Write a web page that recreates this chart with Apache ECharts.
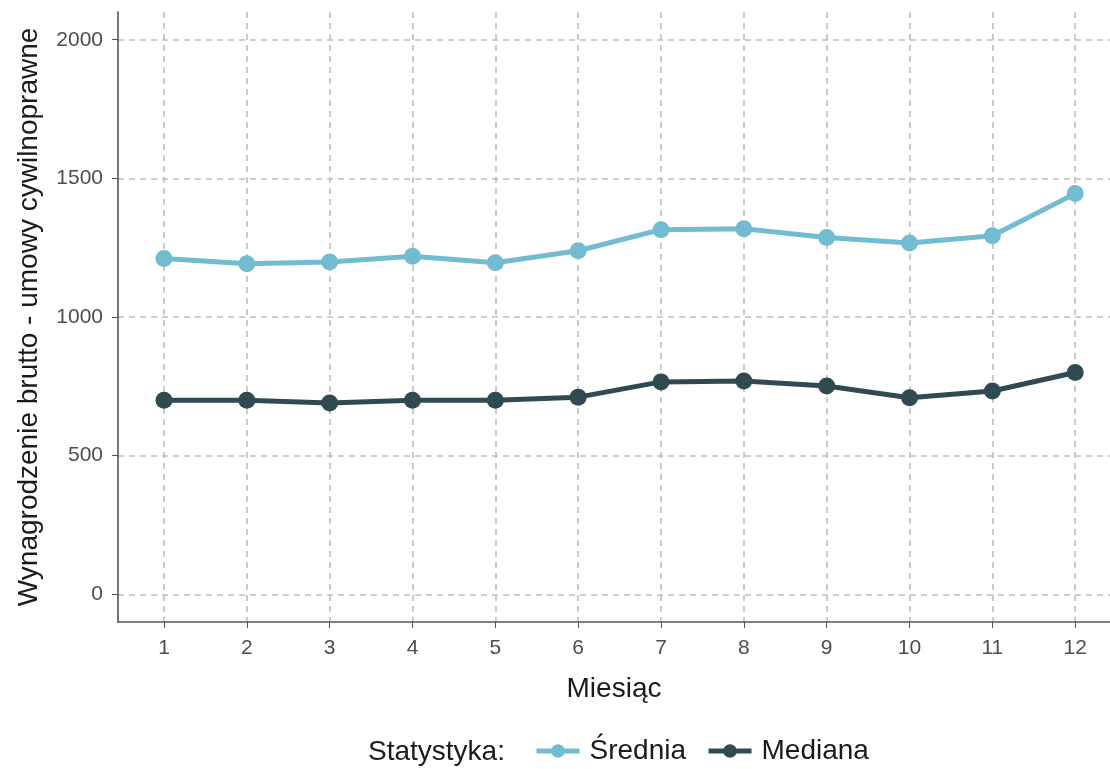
<!DOCTYPE html>
<html><head><meta charset="utf-8">
<script src="https://cdn.jsdelivr.net/npm/echarts@6/dist/echarts.min.js"></script>
<style>html,body{margin:0;padding:0;background:#fff}#c{width:1110px;height:769px}</style>
</head><body><div id="c"></div>
<script>
const months = [1,2,3,4,5,6,7,8,9,10,11,12];
const srednia = [1211,1192,1198,1219,1196,1239,1315,1318,1287,1267,1293,1445];
const mediana = [700,700,690,700,700,711,766,769,751,709,733,800];
const yTicks = [0,500,1000,1500,2000];
const seriesNames = ['Średnia','Mediana'];
const colors = ['#72BCD1','#2F4A53'];
const font = '"Liberation Sans", Arial, sans-serif';

const chart = echarts.init(document.getElementById('c'), null, {renderer:'canvas'});
const mk = (name, vals, color) => ({
  name, type:'line', data: months.map((m,i)=>[m, vals[i]]),
  symbol:'circle', symbolSize:17, itemStyle:{color},
  lineStyle:{color, width:5}, emphasis:{disabled:true}, animation:false
});
chart.setOption({
  animation:false,
  textStyle:{fontFamily:font},
  grid:{left:118, right:0, top:12, bottom:147, containLabel:false, outerBoundsMode:'none'},
  graphic:[{type:'text', left:368, top:738, style:{text:'Statystyka:', font:'28px '+font, fill:'#1a1a1a'}}],
  legend:{data:seriesNames, left:529, top:732, itemWidth:43, itemHeight:17, itemGap:20,
    lineStyle:{width:5},
    textStyle:{fontSize:28, color:'#1a1a1a', fontFamily:font, padding:[0,0,0,5]}},
  xAxis:{type:'value', min:0.445, max:12.42,
    name:'Miesiąc', nameLocation:'middle', nameGap:53, nameTextStyle:{fontSize:28, color:'#1a1a1a', fontFamily:font},
    axisLine:{show:true, onZero:false, lineStyle:{color:'#555', width:1.6}},
    axisTick:{show:true, length:6, lineStyle:{color:'#555'}, customValues:months},
    axisLabel:{fontSize:21, color:'#4D4D4D', margin:16, fontFamily:font, customValues:months},
    splitLine:{show:true, lineStyle:{color:'#BEBEBE', type:[6,5], width:1.6}}},
  yAxis:{type:'value', min:-100, max:2100,
    name:'Wynagrodzenie brutto - umowy cywilnoprawne', nameLocation:'middle', nameGap:75,
    nameTextStyle:{fontSize:28, color:'#1a1a1a', fontFamily:font},
    axisLine:{show:true, onZero:false, lineStyle:{color:'#555', width:1.6}},
    axisTick:{show:true, length:6, lineStyle:{color:'#555'}, customValues:yTicks},
    axisLabel:{fontSize:21, color:'#4D4D4D', margin:15, fontFamily:font, customValues:yTicks, formatter:v=>String(v)},
    splitLine:{show:true, lineStyle:{color:'#BEBEBE', type:[6,5], width:1.6}}},
  series:[mk(seriesNames[0], srednia, colors[0]), mk(seriesNames[1], mediana, colors[1])]
});
</script></body></html>
